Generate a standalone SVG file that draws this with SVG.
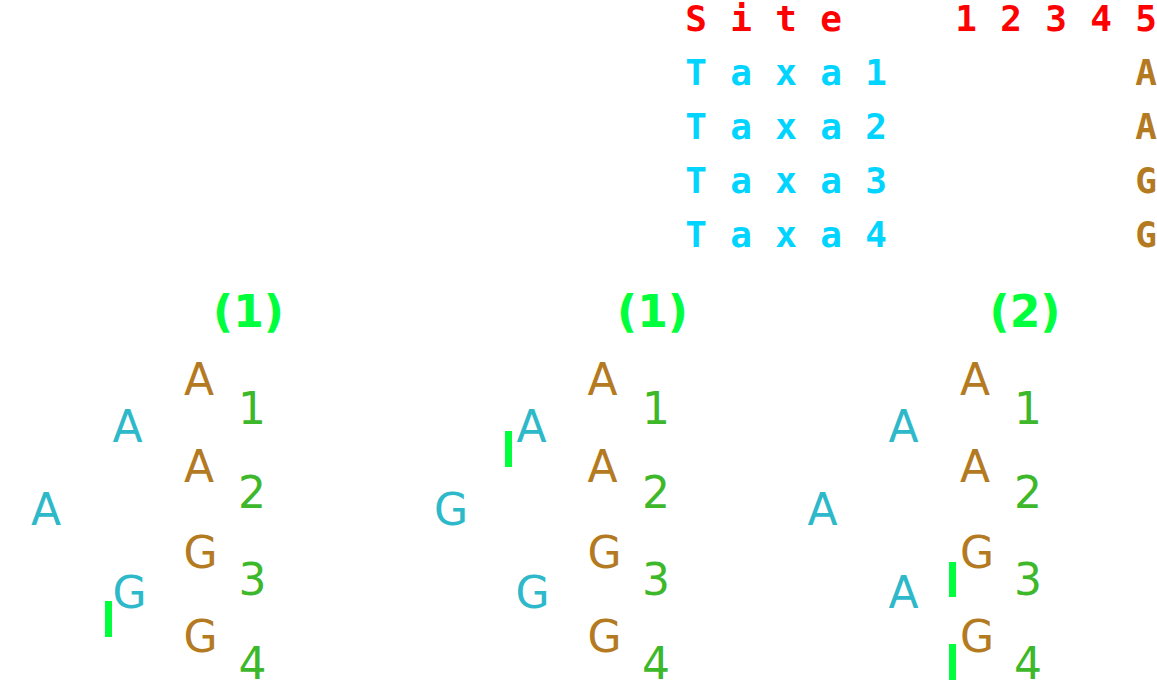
<svg xmlns="http://www.w3.org/2000/svg" width="1157" height="680" viewBox="0 0 1157 680">
<style>
.hdr{font-family:"DejaVu Sans Mono",monospace;font-weight:bold;font-size:36px;text-anchor:middle}
.site{fill:#ff0000}
.taxa{fill:#00d4ff}
.st{fill:#b47a22}
.lbl{font-family:"DejaVu Sans",sans-serif;font-weight:bold;font-size:44px;fill:#00ff3c;text-anchor:middle}
.n{font-family:"DejaVu Sans",sans-serif;font-size:44px;text-anchor:middle}
.int{fill:#2db9c9}
.tip{fill:#b47a22}
.num{fill:#3db82a}
.bar{fill:#00ff3c}
</style>
<rect width="1157" height="680" fill="#ffffff"/>
<g id="table">
<text class="hdr site" x="696 741 786 831 966 1011 1056 1101 1146" y="30.5">Site12345</text>
<text class="hdr taxa" x="696 741 786 831 876" y="84.5">Taxa1</text>
<text class="hdr taxa" x="696 741 786 831 876" y="138.5">Taxa2</text>
<text class="hdr taxa" x="696 741 786 831 876" y="193">Taxa3</text>
<text class="hdr taxa" x="696 741 786 831 876" y="247">Taxa4</text>
<text class="hdr st" x="1146" y="84.5">A</text>
<text class="hdr st" x="1146" y="138.5">A</text>
<text class="hdr st" x="1146" y="193">G</text>
<text class="hdr st" x="1146" y="247">G</text>
</g>
<g id="tree1">
<text class="lbl" x="248.5" y="327">(1)</text>
<text class="n tip" x="199" y="395">A</text>
<text class="n tip" x="199" y="482">A</text>
<text class="n tip" x="200.5" y="568">G</text>
<text class="n tip" x="200.5" y="652">G</text>
<text class="n num" x="252" y="424">1</text>
<text class="n num" x="252" y="508">2</text>
<text class="n num" x="252.5" y="595">3</text>
<text class="n num" x="252.5" y="679">4</text>
<text class="n int" x="127.5" y="442">A</text>
<text class="n int" x="46" y="525">A</text>
<text class="n int" x="129.5" y="608">G</text>
<rect class="bar" x="105" y="601" width="7" height="36"/>
</g>
<g id="tree2">
<text class="lbl" x="652.5" y="327">(1)</text>
<text class="n tip" x="602.5" y="395">A</text>
<text class="n tip" x="602.5" y="482">A</text>
<text class="n tip" x="604.5" y="568">G</text>
<text class="n tip" x="604.5" y="652">G</text>
<text class="n num" x="656" y="424">1</text>
<text class="n num" x="656" y="508">2</text>
<text class="n num" x="656" y="595">3</text>
<text class="n num" x="656" y="679">4</text>
<text class="n int" x="531.5" y="442">A</text>
<text class="n int" x="451" y="525">G</text>
<text class="n int" x="532.5" y="608">G</text>
<rect class="bar" x="505" y="431" width="7" height="36"/>
</g>
<g id="tree3">
<text class="lbl" x="1025" y="327">(2)</text>
<text class="n tip" x="975" y="395">A</text>
<text class="n tip" x="975" y="482">A</text>
<text class="n tip" x="977" y="568">G</text>
<text class="n tip" x="977" y="652">G</text>
<text class="n num" x="1028" y="424">1</text>
<text class="n num" x="1028" y="508">2</text>
<text class="n num" x="1028" y="595">3</text>
<text class="n num" x="1028" y="679">4</text>
<text class="n int" x="903.5" y="442">A</text>
<text class="n int" x="822.5" y="525">A</text>
<text class="n int" x="903.5" y="608">A</text>
<rect class="bar" x="949" y="562" width="7" height="35"/>
<rect class="bar" x="949" y="644" width="7" height="36"/>
</g>
<g id="connectors"/>
</svg>
